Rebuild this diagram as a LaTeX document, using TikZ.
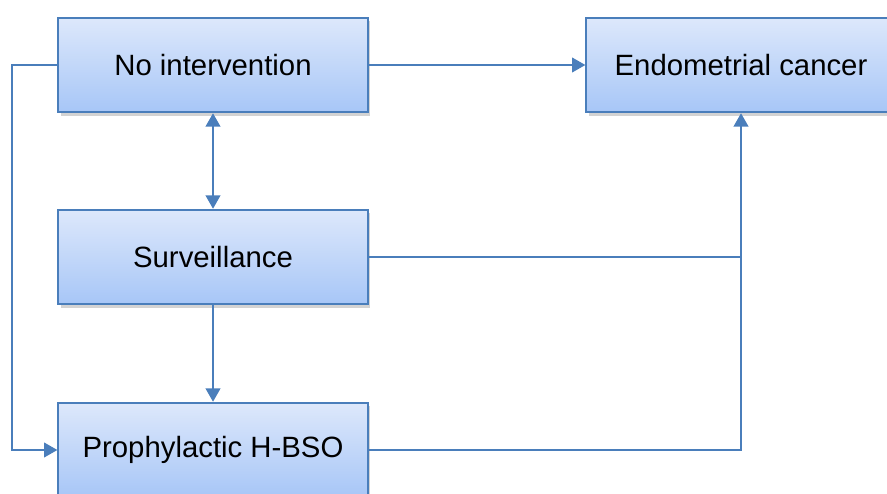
\documentclass[tikz,border=0pt]{standalone}
\usepackage{fontspec}
\setmainfont{Liberation Sans}
\usetikzlibrary{positioning}
\usetikzlibrary{shapes,shadows,arrows.meta}
\definecolor{boxline}{HTML}{4A7EBB}
\definecolor{boxtop}{HTML}{DDE8FB}
\definecolor{boxbottom}{HTML}{A7C6F7}

\begin{document}
\begin{tikzpicture}[x=0.75pt,y=-0.75pt,
    stage/.style={shape=rectangle,draw=boxline,line width=1.4pt,top color=boxtop,bottom color=boxbottom,
      minimum width=232pt,minimum height=71pt,inner sep=0pt,
      font=\fontsize{22}{26}\selectfont,
      drop shadow={shadow xshift=2pt,shadow yshift=-2.5pt,opacity=0.35}},
    link/.style={draw=boxline,line width=1.4pt},
    >={Triangle[length=10pt,width=11pt]}]
    \useasboundingbox (0,0) rectangle (887,493);
    \node[stage] (noint) at (213,65) {No intervention};
    \node[stage] (cancer) at (741,65) {Endometrial cancer};
    \node[stage] (surv) at (213,257) {Surveillance};
    \node[stage] (hbso) at (213,450) {Prophylactic H-BSO};

    \path (noint) edge[link,<->] node {} (surv);
    \path (surv) edge[link,->] node {} (hbso);
    \path (noint) edge[link,->] node {} (cancer);
    \draw [link,->] (noint.west) -- ++(-45,0) |- (hbso.west);
    \draw [link,->] (hbso.east) -| (cancer.south);
    \draw [link] (surv.east) -- (surv.east -| cancer.south);
\end{tikzpicture}
\end{document}
